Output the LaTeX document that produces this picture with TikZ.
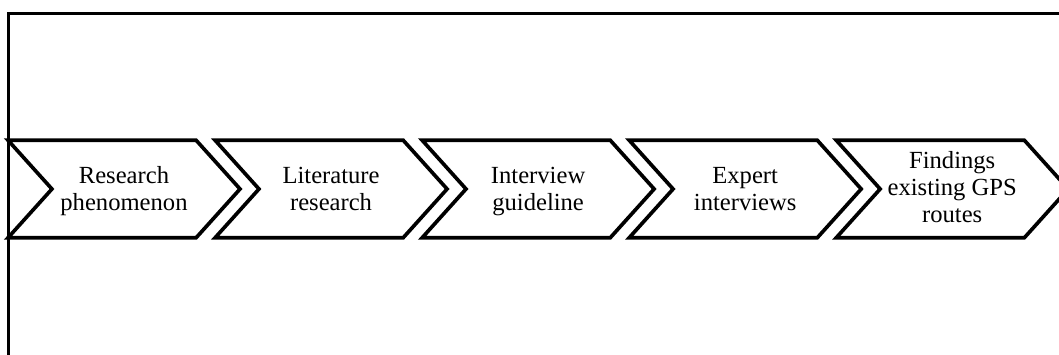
\documentclass[tikz,border=0pt]{standalone}
\usepackage{fontspec}
\setmainfont{Liberation Serif}
\usetikzlibrary{shapes.symbols, calc}

\begin{document}
\begin{tikzpicture}[
    x=0.025cm, y=-0.025cm,
    stage/.style={signal, signal from=west, signal to=east, signal pointer angle=96, draw, line width=2.6pt, minimum width=5.8cm, minimum height=2.44cm, inner sep=0pt, align=center, text height=1.25cm, text depth=0.2cm, font=\fontsize{17.5}{18.9}\selectfont},
    frame/.style={line width=1.6pt}
]
\useasboundingbox (0,0) rectangle (1059,355);
\clip (0,0) rectangle (1059,355);

% Frame
\draw[frame] (8.5,400) -- (8.5,13.5) -- (1100,13.5);

% Stages
\node[stage] (Phen) at (124,189) {Research\\phenomenon};
\node[stage] (LitRes) at ([xshift=5.175cm]Phen.center) {Literature\\research};
\node[stage] (Guide) at ([xshift=5.175cm]LitRes.center) {Interview\\guideline};
\node[stage] (ExpInt) at ([xshift=5.175cm]Guide.center) {Expert\\interviews};
\node[stage, text height=1.85cm] (Find) at ([xshift=5.175cm]ExpInt.center) {Findings\\existing GPS\\routes};

\end{tikzpicture}
\end{document}
